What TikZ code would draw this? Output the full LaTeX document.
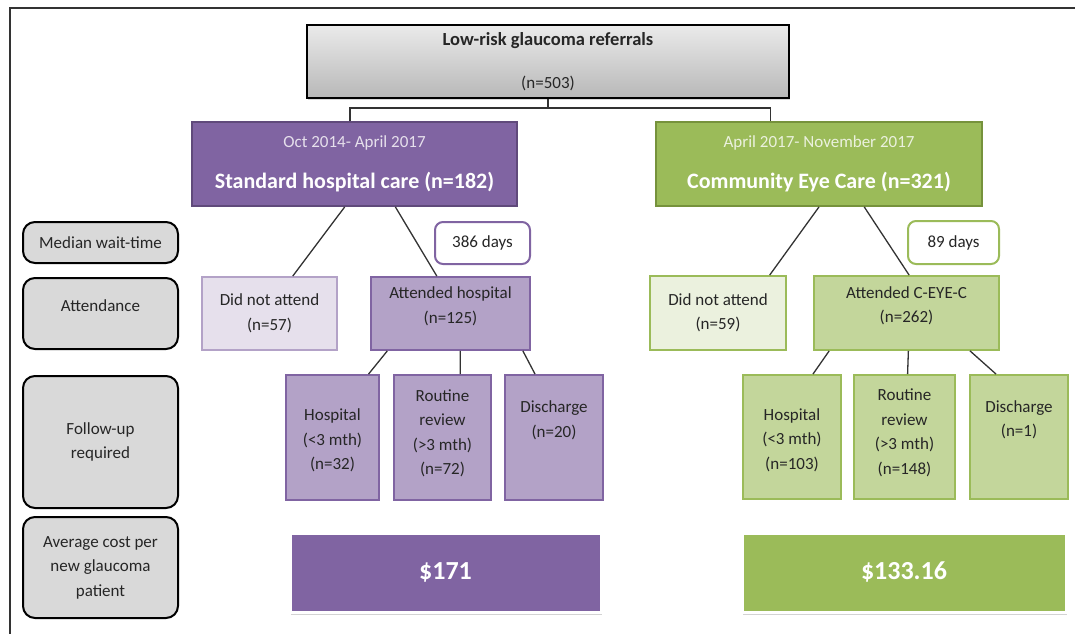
\documentclass[tikz,border=0pt]{standalone}
\usepackage{fontspec}
\setmainfont{Carlito}
\usetikzlibrary{positioning,calc,shadows}

\definecolor{purpleD}{HTML}{8064A2}
\definecolor{purpleE}{HTML}{604A7B}
\definecolor{purpleM}{HTML}{B3A2C7}
\definecolor{purpleL}{HTML}{E6E0EC}
\definecolor{greenD}{HTML}{9BBB59}
\definecolor{greenE}{HTML}{76923C}
\definecolor{greenM}{HTML}{C3D69B}
\definecolor{greenL}{HTML}{EBF1DE}
\definecolor{labelgray}{HTML}{D9D9D9}
\definecolor{inkgray}{HTML}{262626}

\tikzset{
  box/.style={rectangle, inner sep=0pt, align=center, text=inkgray, line width=1.8pt,
    font=\fontsize{17}{24.5}\selectfont},
  rowlabel/.style={box, draw=black, fill=labelgray, rounded corners=12pt, line width=2pt,
    minimum width=155pt},
  header/.style={box, text=white, line width=1.8pt},
  wait/.style={box, fill=white, rounded corners=8pt, line width=2pt},
  cost/.style={rectangle, draw=white, line width=3pt, text=white, inner sep=0pt,
    font=\fontsize{26}{30}\selectfont\bfseries,
    drop shadow={opacity=0.35, shadow xshift=1pt, shadow yshift=-3pt},
    minimum width=311pt, minimum height=79pt},
  conn/.style={draw=black!80, line width=1.3pt}
}

\begin{document}
\begin{tikzpicture}[x=1pt, y=-1pt]
\useasboundingbox (0,0) rectangle (1075,634);
% frame
\draw[black!80, line width=1.6pt] (1075,8) -- (10,8) -- (10,634);

% top
\node[box, draw=black, line width=1.8pt, top color=black!8, bottom color=black!28,
  drop shadow={opacity=0.3, shadow xshift=1pt, shadow yshift=-2pt},
  minimum width=482pt, minimum height=73pt] (top) at (548,61.5)
  {{\fontsize{18.5}{24.5}\selectfont\bfseries Low-risk glaucoma referrals}\\[18pt](n=503)};

% the two arms
\node[header, draw=purpleE, fill=purpleD, minimum width=325pt, minimum height=84pt] (leftH) at (354.5,164)
  {{\color{purpleL}Oct 2014- April 2017}\\[16pt]{\fontsize{22}{26}\selectfont\bfseries Standard hospital care (n=182)}};
\node[header, draw=greenE, fill=greenD, minimum width=326pt, minimum height=84pt] (rightH) at (819,164)
  {{\color{greenL}April 2017- November 2017}\\[16pt]{\fontsize{22}{26}\selectfont\bfseries Community Eye Care (n=321)}};

\coordinate (split) at (548,108);
\draw[conn] (top.south) -- (split);
\draw[conn] ($(leftH.north west)!0.486!(leftH.north east)$) |- (split)
  -| ($(rightH.north west)!0.353!(rightH.north east)$);

% row labels
\node[rowlabel, minimum height=41pt] (lblWait) at (100.5,242.5) {Median wait-time};
\node[rowlabel, minimum height=71pt] (lblAtt) at (100.5,313.5) {Attendance\\[-9.5pt]~};
\node[rowlabel, minimum height=132pt] (lblFup) at (100.5,442) {Follow-up\\required};
\node[rowlabel, minimum height=101pt] (lblCost) at (100.5,567.5) {Average cost per\\new glaucoma\\patient};

% standard hospital care
\node[wait, draw=purpleD, minimum width=95pt, minimum height=42pt] (waitL) at (482.5,243) {386 days};
\node[box, draw=purpleM, fill=purpleL, minimum width=135pt, minimum height=73pt] (dnaL) at (269.5,313.5)
  {Did not attend\\(n=57)};
\node[box, draw=purpleD, fill=purpleM, minimum width=159pt, minimum height=73pt] (attL) at (450.5,313.5)
  {Attended hospital\\(n=125)\\[-8pt]~};
\node[box, draw=purpleD, fill=purpleM, minimum width=93pt, minimum height=125pt] (hospL) at (332.5,437.5)
  {~\\[-6.5pt]Hospital\\(\textless3 mth)\\(n=32)};
\node[box, draw=purpleD, fill=purpleM, minimum width=97pt, minimum height=125pt] (routL) at (442.5,437.5)
  {Routine\\review\\(\textgreater3 mth)\\(n=72)\\[-14pt]~};
\node[box, draw=purpleD, fill=purpleM, minimum width=98pt, minimum height=125pt] (discL) at (554,437.5)
  {Discharge\\(n=20)\\[12pt]~};
\node[cost, fill=purpleD] (costL) at (445.5,572.5) {\$171};

\draw[conn] ($(leftH.south west)!0.47!(leftH.south east)$) -- ($(dnaL.north west)!0.67!(dnaL.north east)$);
\draw[conn] ($(leftH.south west)!0.625!(leftH.south east)$) -- ($(attL.north west)!0.415!(attL.north east)$);
\draw[conn] ($(attL.south west)!0.107!(attL.south east)$) -- ($(hospL.north west)!0.88!(hospL.north east)$);
\draw[conn] ($(attL.south west)!0.56!(attL.south east)$) -- ($(routL.north west)!0.68!(routL.north east)$);
\draw[conn] ($(attL.south west)!0.95!(attL.south east)$) -- ($(discL.north west)!0.31!(discL.north east)$);

% community eye care
\node[wait, draw=greenD, minimum width=91pt, minimum height=43pt] (waitR) at (953.5,242.5) {89 days};
\node[box, draw=greenD, fill=greenL, minimum width=136pt, minimum height=74pt] (dnaR) at (718,313)
  {Did not attend\\(n=59)};
\node[box, draw=greenD, fill=greenM, minimum width=185pt, minimum height=74pt] (attR) at (906.5,313)
  {Attended C-EYE-C\\(n=262)\\[-8pt]~};
\node[box, draw=greenD, fill=greenM, minimum width=98pt, minimum height=124pt] (hospR) at (792,437)
  {~\\[-6.5pt]Hospital\\(\textless3 mth)\\(n=103)};
\node[box, draw=greenD, fill=greenM, minimum width=101pt, minimum height=124pt] (routR) at (904.5,437)
  {Routine\\review\\(\textgreater3 mth)\\(n=148)\\[-14pt]~};
\node[box, draw=greenD, fill=greenM, minimum width=98pt, minimum height=124pt] (discR) at (1019,437)
  {Discharge\\(n=1)\\[12pt]~};
\node[cost, fill=greenD, minimum width=324pt] (costR) at (904,572.5) {\$133.16};

\draw[conn] ($(rightH.south west)!0.5!(rightH.south east)$) -- ($(dnaR.north west)!0.875!(dnaR.north east)$);
\draw[conn] ($(rightH.south west)!0.638!(rightH.south east)$) -- ($(attR.north west)!0.514!(attR.north east)$);
\draw[conn] ($(attR.south west)!0.086!(attR.south east)$) -- ($(hospR.north west)!0.71!(hospR.north east)$);
\draw[conn] ($(attR.south west)!0.51!(attR.south east)$) -- ($(routR.north west)!0.53!(routR.north east)$);
\draw[conn] ($(attR.south west)!0.84!(attR.south east)$) -- ($(discR.north west)!0.27!(discR.north east)$);
\end{tikzpicture}
\end{document}
